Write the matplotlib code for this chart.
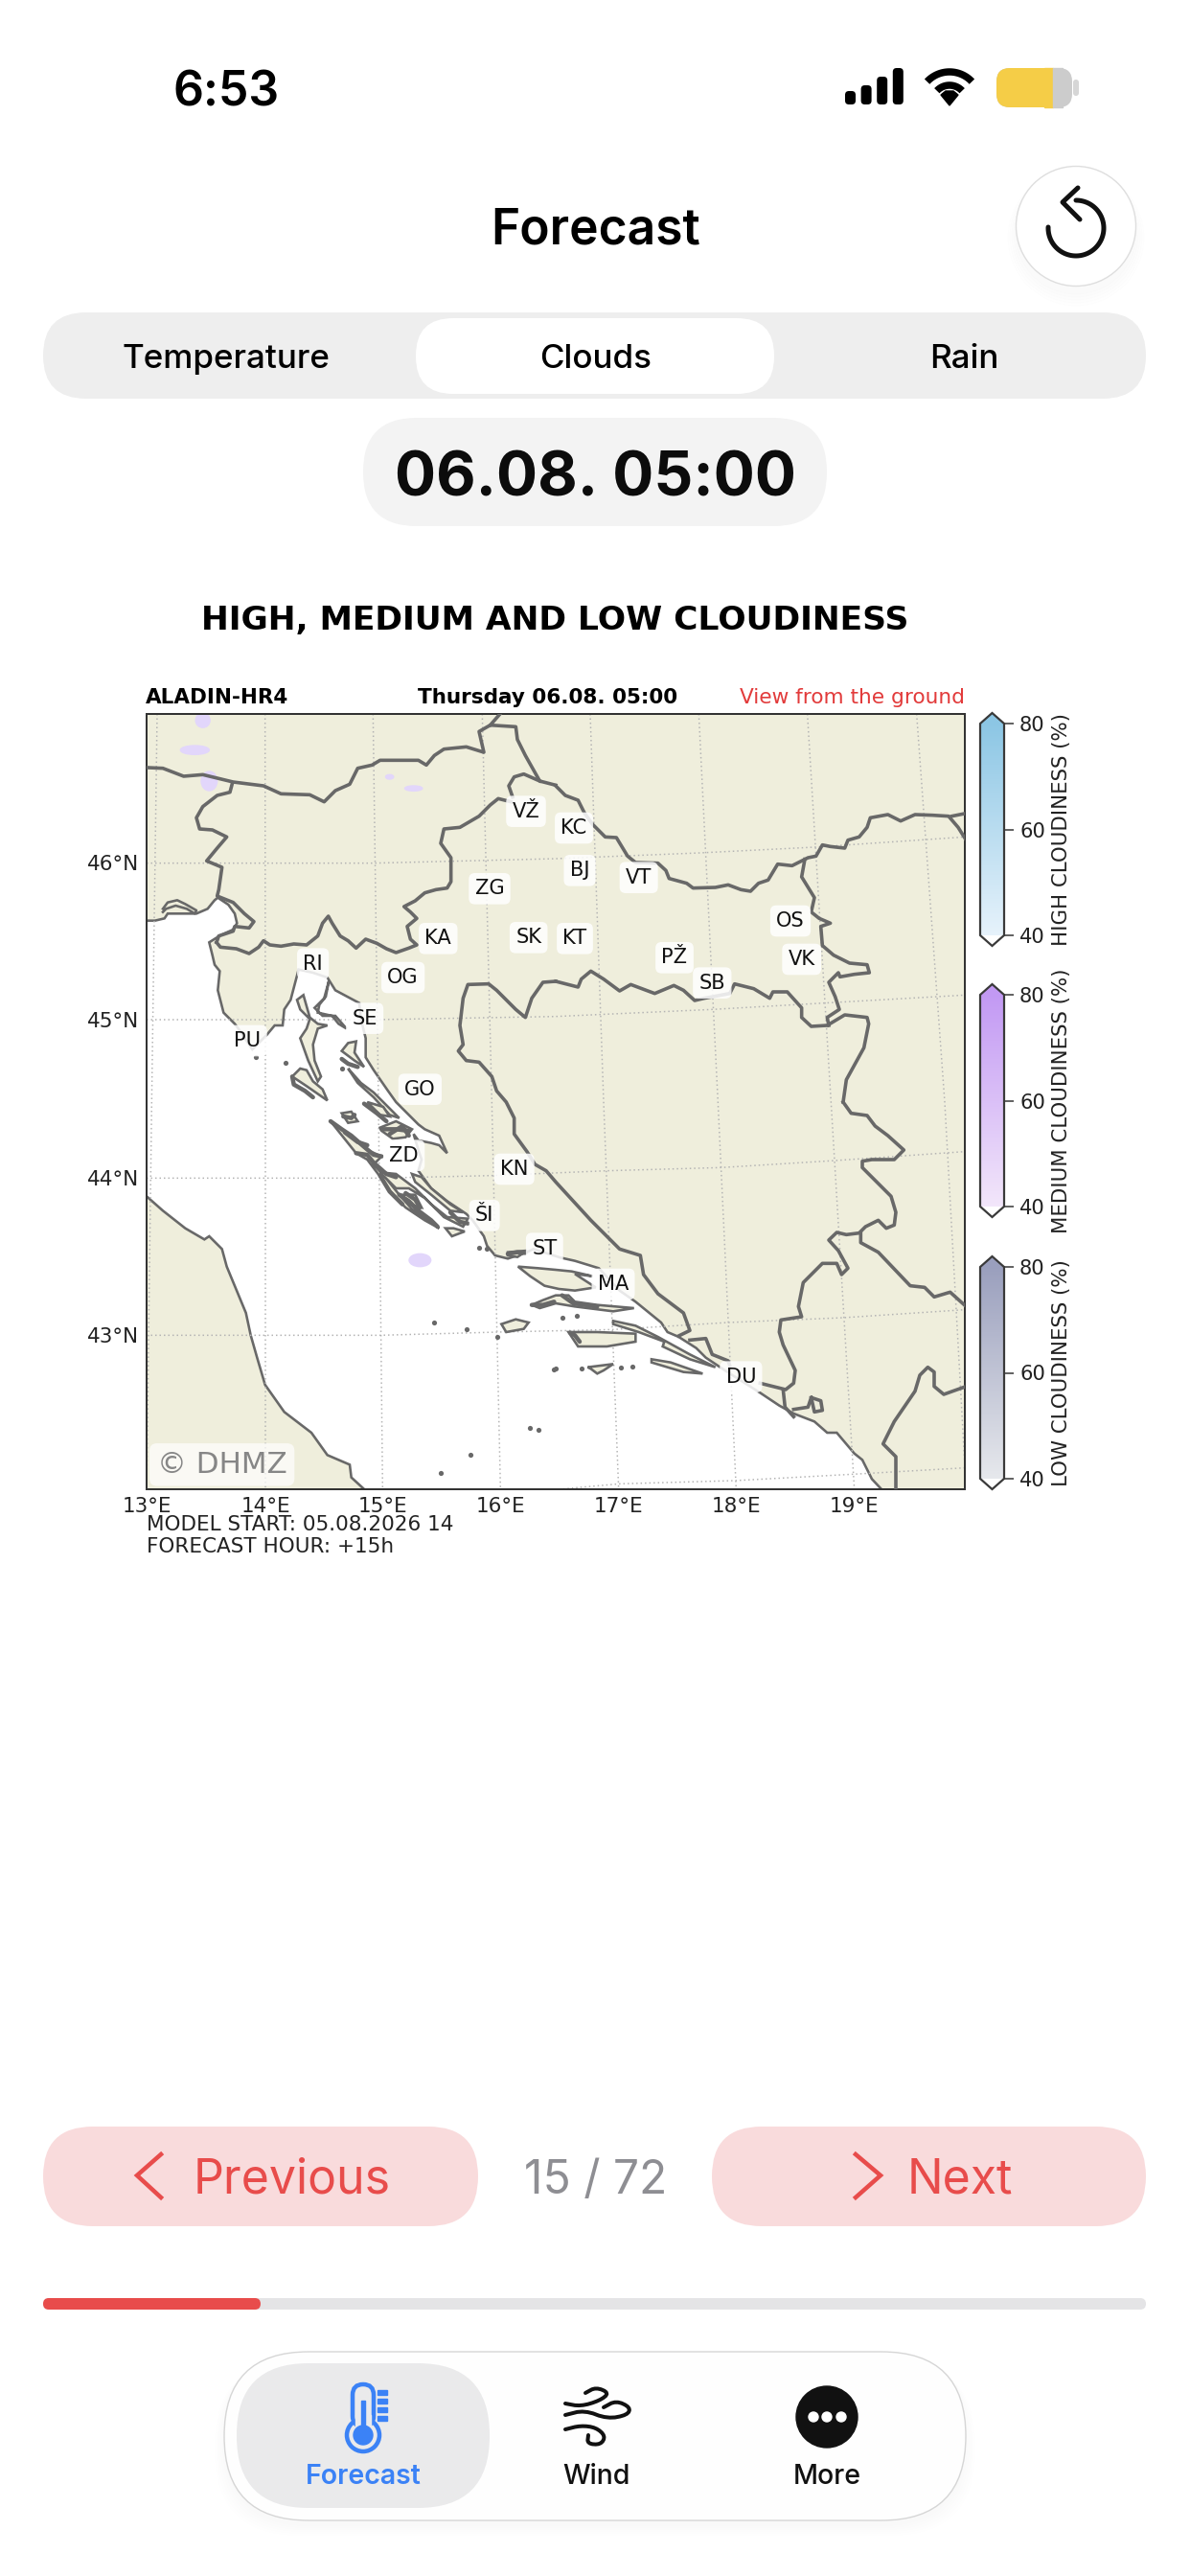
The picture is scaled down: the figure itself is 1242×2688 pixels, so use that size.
#!/usr/bin/env python3
"""Forecast screen of the cloud map app: phone UI around the ALADIN-HR4 map."""

import numpy as np
import matplotlib
matplotlib.use('Agg')
import matplotlib.pyplot as plt
from matplotlib.colors import LinearSegmentedColormap, Normalize
from matplotlib.cm import ScalarMappable
from matplotlib.patches import FancyBboxPatch, Circle, Ellipse, Polygon, Rectangle

WIDTH, HEIGHT = 1242, 2688
UI_FONT = 'Inter'
LAND = '#efeedc'
COAST = '#686868'
RED = '#e84c4b'
BLUE = '#3b82f6'

# map is traced in its own projected units, split in four tiles
EAST = 1290
SOUTH = 1230


def tile(points, du=0, dv=0):
    return [(u + du, v + dv) for u, v in points]


# axis ticks of the map (projected position -> label)
LON_TICKS = [9, 381, 748, 1117, 1487, 1855, 2225]
LON_LABELS = ['13°E', '14°E', '15°E', '16°E', '17°E', '18°E', '19°E']
LAT_TICKS = [480, 972, 1468, 1960]
LAT_LABELS = ['46°N', '45°N', '44°N', '43°N']

MERIDIANS = [
    [(42, 15), (25, 1230), (9, 2442)],
    [(380, 15), (381, 1230), (381, 2442)],
    [(718, 15), (735, 1230), (748, 2442)],
    [(1060, 15), (1090, 1230), (1117, 2442)],
    [(1398, 15), (1440, 1230), (1487, 2442)],
    [(1738, 15), (1798, 1230), (1855, 2442)],
    [(2078, 15), (2152, 1230), (2225, 2442)],
    [(2420, 15), (2508, 1230), (2575, 2442)],
]
PARALLELS = [
    [(9, 482), (720, 482), (1290, 468), (1740, 450), (2100, 432), (2571, 400)],
    [(9, 972), (720, 972), (1290, 962), (1780, 940), (2130, 920), (2571, 895)],
    [(9, 1468), (740, 1468), (1090, 1460), (1450, 1445), (1808, 1435), (2165, 1413), (2571, 1385)],
    [(9, 1960), (740, 1960), (1110, 1950), (1470, 1942), (1830, 1920), (2190, 1905), (2571, 1880)],
    [(1300, 2442), (1490, 2425), (1850, 2415), (2220, 2395), (2571, 2375)],
]

CITY_NAMES = ['VŽ', 'ZG', 'KA', 'SK', 'OG', 'RI', 'SE', 'PU', 'GO', 'KC', 'BJ', 'VT',
              'KT', 'PŽ', 'SB', 'OS', 'VK', 'ZD', 'KN', 'ŠI', 'ST', 'MA', 'DU']
CITY_U = [1197, 1083, 922, 1205, 812, 530, 692, 325, 865, 1347, 1365, 1550,
          1350, 1662, 1780, 2025, 2060, 815, 1160, 1067, 1255, 1470, 1870]
CITY_V = [320, 562, 718, 715, 840, 797, 968, 1038, 1190, 372, 505, 527,
          718, 778, 857, 663, 783, 1397, 1440, 1585, 1688, 1800, 2090]

# medium cloud patches: centre u, centre v, width, height
CLOUD_U = [185, 160, 205, 770, 845, 865]
CLOUD_V = [35, 128, 225, 212, 248, 1725]
CLOUD_W = [45, 90, 50, 25, 55, 68]
CLOUD_H = [45, 28, 60, 14, 16, 40]

ITALY_COAST = tile([
    (710, 1230), (650, 1175), (645, 1135), (575, 1105), (525, 1035), (440, 970), (380, 885),
    (355, 800), (335, 730), (320, 660), (260, 515), (245, 460), (205, 420), (190, 430),
    (130, 395), (60, 340), (9, 295), (-30, 270)], 0, SOUTH)

EAST_COAST = [
    (-30, 662), (35, 662), (65, 655), (75, 640), (120, 640), (165, 640), (200, 625), (222, 598),
    (232, 590), (265, 612), (285, 640), (292, 670), (280, 690), (240, 708), (205, 730), (215, 770),
    (222, 800), (238, 820), (232, 880), (250, 950), (285, 985), (300, 1005), (340, 1065), (385, 1020),
    (410, 990), (435, 990), (440, 940), (460, 910), (485, 815), (530, 825), (575, 840), (600, 880),
    (675, 920), (680, 970), (695, 1030), (695, 1090), (720, 1130), (765, 1195), (790, 1230),
    (860, 1300), (880, 1315), (925, 1335), (950, 1390), (925, 1365), (900, 1358), (860, 1350),
    (845, 1330), (860, 1380), (870, 1410), (860, 1445), (900, 1500), (950, 1540), (1010, 1580),
    (1030, 1600), (1065, 1650), (1075, 1680), (1100, 1710), (1140, 1720), (1200, 1700), (1220, 1690),
] + tile([
    (15, 487), (60, 497), (135, 520), (200, 590), (250, 625), (330, 690), (350, 720), (385, 735),
    (440, 770), (470, 800), (530, 840), (640, 910), (700, 950), (745, 975), (810, 1000), (850, 1035),
    (880, 1035), (935, 1100), (960, 1120), (990, 1180), (1020, 1212), (1050, 1250)], EAST, SOUTH)

LAGOON = [(60, 625), (75, 605), (105, 598), (130, 610), (165, 630), (160, 640), (135, 625),
          (100, 615), (70, 625), (60, 635)]

AUSTRIA_BORDER = [
    (-10, 182), (60, 185), (125, 210), (185, 205), (280, 228), (375, 240), (430, 265), (520, 268),
    (565, 290), (600, 255), (645, 235), (670, 185), (715, 175), (740, 160), (860, 160), (885, 175),
    (910, 145), (940, 125), (1010, 118), (1065, 135), (1050, 70), (1085, 50), (1165, 55), (1170, 95),
    (1195, 145), (1240, 225), (1290, 238)]
AUSTRIA_TOP = [(1085, 50), (1120, 10)]
ITALY_SLOVENIA = [
    (278, 230), (270, 260), (230, 270), (185, 305), (165, 340), (175, 375), (215, 378), (260, 400),
    (230, 435), (197, 475), (245, 495), (235, 565), (230, 585), (280, 605), (315, 640), (345, 665),
    (330, 685), (285, 680), (280, 695), (235, 710), (228, 730)]
SLOVENIA_CROATIA = [
    (228, 730), (240, 745), (290, 750), (330, 765), (360, 745), (375, 725), (395, 738), (430, 742),
    (470, 735), (510, 738), (545, 710), (560, 670), (578, 648), (590, 670), (615, 710), (640, 725),
    (665, 748), (695, 720), (730, 733), (760, 750), (790, 762), (830, 748), (855, 738), (835, 720),
    (825, 680), (855, 655), (835, 635), (815, 618), (850, 600), (880, 575), (915, 565), (950, 560),
    (962, 540), (962, 465), (930, 420), (940, 375), (990, 370), (1050, 335), (1085, 300), (1110, 280),
    (1150, 290)]
SLOVENIA_HUNGARY = [(1155, 275), (1143, 240), (1160, 212), (1190, 203), (1240, 225)]
DRAVA = tile([
    (0, 240), (30, 270), (70, 285), (90, 325), (115, 360), (155, 400), (190, 402), (225, 460),
    (250, 480), (320, 482), (345, 505), (355, 530), (410, 545), (430, 560), (500, 558), (540, 550),
    (580, 565), (610, 570), (635, 545), (665, 535), (695, 485), (740, 490), (790, 465), (815, 460),
    (835, 425), (860, 430), (905, 435), (915, 410), (950, 400), (975, 370), (985, 340), (1040, 330),
    (1080, 350), (1125, 330), (1180, 332), (1230, 335), (1260, 370), (1285, 410)], EAST)
HUNGARY_ROMANIA = tile([(1240, 335), (1285, 326)], EAST)
DANUBE = tile([
    (780, 470), (770, 525), (810, 590), (800, 635), (825, 655), (860, 670), (830, 680), (835, 740),
    (870, 770), (920, 795), (975, 800), (982, 825), (935, 830), (890, 838), (885, 825), (855, 855),
    (875, 900), (888, 940), (850, 965), (855, 990)], EAST)
SAVA = tile([
    (0, 852), (70, 870), (80, 845), (110, 820), (150, 845), (200, 882), (235, 862), (310, 890),
    (370, 865), (400, 880), (435, 912), (465, 905), (545, 890), (560, 860), (620, 875), (670, 905),
    (680, 885), (725, 885), (770, 935), (770, 965), (800, 993), (850, 990), (905, 957), (975, 965),
    (980, 985), (965, 1060), (910, 1160), (900, 1230)], EAST)
BOSNIA_SERBIA = tile([
    (900, 0), (925, 35), (975, 42), (1000, 75), (1040, 105), (1090, 150), (1060, 180), (990, 180),
    (960, 185), (960, 205), (1050, 295), (1065, 345), (1060, 385), (1035, 395), (1010, 370), (970, 390),
    (950, 410), (910, 415), (880, 408), (855, 432), (885, 465), (915, 520), (895, 540), (880, 505),
    (835, 505), (775, 565), (760, 640), (770, 672), (705, 682), (700, 720), (712, 760), (750, 840),
    (745, 880), (720, 900), (700, 895), (640, 880)], EAST, SOUTH)
BOSNIA_MONTENEGRO = tile([(712, 900), (718, 955), (745, 985)], EAST, SOUTH)
KOTOR = tile([(745, 962), (790, 955), (800, 925), (830, 935), (835, 965), (810, 970), (800, 925)], EAST, SOUTH)
SERBIA_MONTENEGRO = tile([
    (955, 410), (955, 440), (1010, 470), (1110, 575), (1155, 580), (1185, 610), (1235, 595), (1285, 640)],
    EAST, SOUTH)
ALBANIA_KOSOVO = tile([
    (1285, 890), (1215, 915), (1185, 890), (1185, 845), (1165, 830), (1140, 855), (1125, 905), (1060, 1000),
    (1025, 1070), (1065, 1110), (1065, 1220)], EAST, SOUTH)
CROATIA_BOSNIA = tile([
    (1290, 852), (1250, 855), (1215, 905), (1195, 965), (1165, 940), (1105, 880), (1080, 860), (1015, 862),
    (1000, 905), (990, 990), (1000, 1050), (985, 1070), (1010, 1100), (1050, 1105), (1090, 1150), (1105, 1195),
    (1135, 1230), (1160, 1280), (1160, 1330), (1200, 1385), (1225, 1425), (1260, 1445), (1290, 1480)]) + tile([
    (55, 310), (110, 370), (200, 460), (265, 480), (275, 540), (320, 600), (400, 660), (420, 715), (385, 732)],
    EAST, SOUTH)
DUBROVNIK_LAND = tile([(420, 745), (470, 740), (490, 790), (540, 810), (545, 825)], EAST, SOUTH)
BORDERS = [AUSTRIA_BORDER, AUSTRIA_TOP, ITALY_SLOVENIA, SLOVENIA_CROATIA, SLOVENIA_HUNGARY, DRAVA,
           HUNGARY_ROMANIA, DANUBE, SAVA, BOSNIA_SERBIA, BOSNIA_MONTENEGRO, KOTOR, SERBIA_MONTENEGRO,
           ALBANIA_KOSOVO, CROATIA_BOSNIA, DUBROVNIK_LAND]

CRES = [(480, 910), (500, 895), (510, 930), (520, 965), (545, 985), (575, 990), (545, 1000), (530, 1050),
        (535, 1100), (555, 1150), (545, 1165), (515, 1100), (490, 1030), (510, 1000), (520, 970), (490, 940)]
KRK = [(580, 850), (565, 905), (535, 935), (560, 960), (600, 960), (635, 1000), (610, 985), (590, 960),
       (545, 950), (550, 925), (570, 900)]
RAB = [(620, 1070), (640, 1045), (665, 1040), (660, 1075), (690, 1120), (660, 1100)]
PAG = [(640, 1125), (680, 1170), (720, 1200), (760, 1240), (800, 1280), (770, 1270), (720, 1215), (670, 1170)]
LOSINJ = [(465, 1150), (490, 1125), (510, 1130), (530, 1165), (560, 1190), (575, 1225), (510, 1180)]
BELT_A = tile([(585, 60), (640, 100), (700, 150), (745, 170), (720, 195), (760, 240), (800, 290), (840, 335),
               (900, 375), (925, 395), (880, 370), (820, 330), (780, 290), (745, 240), (700, 180), (665, 160)],
              0, SOUTH)
BELT_B = tile([(740, 220), (790, 225), (850, 270), (900, 320), (950, 360), (1015, 365), (1000, 390), (940, 360),
               (880, 300), (830, 270), (790, 270)], 0, SOUTH)
BELT_C = tile([(810, 290), (850, 290), (870, 330), (830, 320)], 0, SOUTH)
BELT_D = tile([(840, 225), (870, 235), (900, 270), (960, 320), (1000, 345), (960, 340), (900, 290), (850, 250)],
              0, SOUTH)
SMALL_A = tile([(620, 35), (650, 30), (670, 60), (640, 65)], 0, SOUTH)
SMALL_B = tile([(740, 80), (790, 60), (840, 85), (820, 110), (780, 115), (745, 90)], 0, SOUTH)
SMALL_C = tile([(700, 0), (740, 40), (770, 45), (750, 15)], 0, SOUTH)
SMALL_D = tile([(945, 395), (965, 420), (1005, 405), (970, 395)], 0, SOUTH)
TROGIR = tile([(1140, 470), (1200, 465), (1170, 485), (1140, 480)], 0, SOUTH)
BRAC = [(1172, 1745), (1235, 1750), (1290, 1755), (1340, 1760), (1405, 1775), (1350, 1768), (1415, 1810),
        (1350, 1820), (1300, 1815), (1255, 1805), (1210, 1775)]
HVAR = tile([(1215, 635), (1250, 620), (1290, 605), (1330, 605), (1350, 625), (1420, 635), (1535, 645),
             (1470, 655), (1350, 640), (1290, 630), (1240, 645)], 0, SOUTH)
VIS = tile([(1120, 695), (1165, 680), (1205, 690), (1190, 710), (1135, 720)], 0, SOUTH)
KORCULA = tile([(40, 720), (130, 720), (250, 725), (250, 750), (160, 765), (70, 765), (50, 735)], EAST, SOUTH)
PELJESAC = tile([(180, 685), (250, 700), (320, 735), (420, 790), (500, 830), (420, 805), (335, 765), (340, 750),
                 (260, 720), (180, 695)], EAST, SOUTH)
MLJET = tile([(300, 805), (360, 815), (460, 850), (400, 845), (300, 815)], EAST, SOUTH)
LASTOVO = tile([(100, 830), (180, 820), (150, 840), (130, 850), (110, 835)], EAST, SOUTH)
ISLANDS = [CRES, KRK, RAB, PAG, LOSINJ, BELT_A, BELT_B, BELT_C, BELT_D, SMALL_A, SMALL_B, SMALL_C, SMALL_D,
           TROGIR, BRAC, HVAR, VIS, KORCULA, PELJESAC, MLJET, LASTOVO]

# crowded island strings that read as solid dark strokes
ISLAND_MASSES = [
    tile(line, 0, SOUTH) for line in [
        [(585, 60), (620, 85), (650, 105), (690, 140), (720, 165), (745, 170)],
        [(665, 160), (700, 165), (720, 190)],
        [(630, 95), (670, 125), (700, 135)],
        [(800, 290), (830, 310), (860, 340), (900, 370), (920, 390)],
        [(820, 285), (850, 305), (865, 330)],
        [(960, 345), (990, 375), (1015, 380)],
        [(745, 85), (790, 85), (830, 90)],
        [(770, 100), (810, 75), (830, 105)],
        [(720, 190), (760, 225), (790, 235)],
        [(625, 45), (650, 50), (660, 40)],
        [(690, 5), (730, 35), (760, 60)],
        [(740, 230), (770, 280), (810, 320)],
        [(1140, 475), (1170, 470), (1195, 472)],
        [(1215, 635), (1250, 635), (1285, 625)],
    ]
] + [tile([(20, 605), (55, 630), (130, 640)], EAST, SOUTH),
     tile([(75, 750), (60, 730), (45, 722)], EAST, SOUTH),
     [(465, 1150), (470, 1175), (505, 1195), (530, 1215)],
     [(620, 1095), (640, 1110), (670, 1120)]]

ISLET_U = [350, 445, 620, 908, 1010, 1108, 1210, 1237, 1022, 930, 1285, 1355, 1310, 1370, 1495, 1530, 1290, 1050, 1075]
ISLET_V = [1090, 1108, 1125, 1920, 1942, 1965, 2250, 2255, 2335, 2390, 2068, 1900, 1905, 2065, 2060, 2058, 2065, 1685, 1690]

CBAR_LABELS = ['HIGH CLOUDINESS (%)', 'MEDIUM CLOUDINESS (%)', 'LOW CLOUDINESS (%)']
CBAR_TICKS = [40, 60, 80]
CBAR_TOP = ['#8cc6e4', '#c299f3', '#9a9fbd']
CBAR_BOTTOM = ['#e6f2fb', '#f2e6fa', '#e6e8ec']
CBAR_Y = [(744, 987), (1027, 1270), (1311, 1554)]

TABS = ['Temperature', 'Clouds', 'Rain']
TAB_X = [236, 622, 1006]
NAV_LABELS = ['Forecast', 'Wind', 'More']
NAV_X = [379, 622, 863]
CURRENT_FRAME = 15
TOTAL_FRAMES = 72
SIGNAL_HEIGHTS = [14, 20, 29, 38]

WIND_TOP = [(590, 2508), (606, 2511), (626, 2505), (636, 2497), (622, 2491), (611, 2497)]
WIND_MID = [(590, 2520), (610, 2515), (634, 2524), (655, 2520), (658, 2512), (643, 2505), (630, 2512)]
WIND_LOW = [(590, 2535), (606, 2531), (622, 2533), (632, 2542), (627, 2551), (613, 2550), (614, 2541)]


def px_rect(x0, y0, x1, y1):
    """Pixel box in the screenshot -> figure fractions for add_axes."""
    return [x0 / WIDTH, 1 - y1 / HEIGHT, (x1 - x0) / WIDTH, (y1 - y0) / HEIGHT]


def pt(px):
    # figure is saved at 100 dpi
    return px * 0.72


def pill(ax, x0, y0, x1, y1, radius, face, edge='none', lw=0.0, alpha=1.0, z=1):
    patch = FancyBboxPatch((x0, y0), x1 - x0, y1 - y0, boxstyle=f'round,pad=0,rounding_size={radius}',
                           facecolor=face, edgecolor=edge, linewidth=lw, alpha=alpha, zorder=z)
    ax.add_patch(patch)
    return patch


def smooth(points, rounds=2):
    pts = np.array(points, dtype=float)
    for _ in range(rounds):
        q = 0.75 * pts[:-1] + 0.25 * pts[1:]
        r = 0.25 * pts[:-1] + 0.75 * pts[1:]
        new = np.empty((2 * len(q), 2))
        new[0::2] = q
        new[1::2] = r
        pts = np.vstack([pts[0], new, pts[-1]])
    return pts


def draw_status_bar(ui):
    ui.text(236, 97, '6:53', fontsize=pt(50), fontweight='semibold', family=UI_FONT, ha='center', va='center')
    for i, h in enumerate(SIGNAL_HEIGHTS):
        x = 882 + i * 16.6
        pill(ui, x, 109 - h, x + 11, 109, 4, 'black')
    # wifi: two arcs and the wedge
    t = np.radians(np.linspace(-47, 47, 40))
    for r, w in [(32, 7.5), (18, 7.5)]:
        ui.plot(991 + r * np.sin(t), 107 - r * np.cos(t), color='black', lw=pt(w), solid_capstyle='butt')
    ui.add_patch(Polygon([(991, 110), (982, 99), (987, 95), (995, 95), (1000, 99)], closed=True, color='black'))
    pill(ui, 1040, 71, 1119, 112, 14, '#cccccc')
    pill(ui, 1040, 71, 1108, 112, 14, '#f5cd47', z=2)
    ui.add_patch(Rectangle((1090, 71), 9, 41, color='#f5cd47', zorder=2))
    ui.add_patch(Rectangle((1099, 71), 10, 41, color='#cccccc', zorder=2))
    pill(ui, 1120, 83, 1126, 100, 3, '#d6d6d6')


def draw_header(ui):
    ui.text(622, 241, 'Forecast', fontsize=pt(51.5), fontweight='semibold', family=UI_FONT, ha='center', va='center')
    for k in range(5):
        ui.add_patch(Circle((1123, 244 + k), 63 + k * 2, color='black', alpha=0.003, zorder=1))
    ui.add_patch(Circle((1123, 236), 62.5, facecolor='white', edgecolor='#dedede', lw=1.0, zorder=2))
    t = np.radians(np.linspace(0, 272, 80))
    ui.plot(1123 + 29 * np.sin(t), 238 - 29 * np.cos(t), color='#111111', lw=pt(5), zorder=3, solid_capstyle='round')
    ui.plot([1125, 1109, 1127], [196, 211, 229], color='#111111', lw=pt(5), zorder=3,
            solid_capstyle='round', solid_joinstyle='round')

    pill(ui, 45, 326, 1196, 416, 45, '#eeeeee')
    pill(ui, 434, 332, 808, 411, 39, 'white', z=2)
    for label, x in zip(TABS, TAB_X):
        ui.text(x, 375, label, fontsize=pt(35), fontweight='medium', family=UI_FONT, ha='center', va='center', zorder=3)
    pill(ui, 379, 436, 863, 549, 56, '#f3f3f3')
    ui.text(621, 500, '06.08. 05:00', fontsize=pt(64), fontweight='bold', family=UI_FONT,
            ha='center', va='center', color='#0c0c0c', zorder=3)


def draw_bottom(ui):
    pill(ui, 45, 2219, 499, 2323, 52, '#f9dbdc')
    pill(ui, 743, 2219, 1196, 2323, 52, '#f9dbdc')
    ui.plot([168, 143, 168], [2248, 2270, 2293], color=RED, lw=pt(4.5), solid_joinstyle='miter', zorder=3)
    ui.plot([893, 919, 893], [2248, 2270, 2293], color=RED, lw=pt(4.5), solid_joinstyle='miter', zorder=3)
    ui.text(305, 2275, 'Previous', color=RED, fontsize=pt(50), family=UI_FONT, ha='center', va='center', zorder=3)
    ui.text(1002, 2275, 'Next', color=RED, fontsize=pt(50), family=UI_FONT, ha='center', va='center', zorder=3)
    ui.text(622, 2276, f'{CURRENT_FRAME} / {TOTAL_FRAMES}', color='#8e8e93', fontsize=pt(48), family=UI_FONT,
            ha='center', va='center')

    # progress runs from first to last frame
    done = (CURRENT_FRAME - 1) / (TOTAL_FRAMES - 1)
    pill(ui, 45, 2398, 1196, 2410, 6, '#e4e4e6')
    pill(ui, 45, 2398, 45 + done * (1196 - 45), 2410, 6, RED, z=2)

    for k in range(6):
        pill(ui, 234 - k * 2, 2458 + k, 1008 + k * 2, 2636 + k * 2, 88, 'black', alpha=0.003)
    pill(ui, 234, 2454, 1008, 2630, 88, '#fefefe', edge='#d6d6d6', lw=1.0, z=2)
    pill(ui, 247, 2466, 511, 2617, 75, '#eaeaeb', z=3)

    # thermometer
    ui.add_patch(Circle((379, 2541), 17, facecolor='none', edgecolor=BLUE, lw=pt(4.5), zorder=4))
    pill(ui, 368, 2488, 390, 2532, 11, '#eaeaeb', edge=BLUE, lw=pt(4.5), z=4)
    ui.add_patch(Rectangle((371, 2520), 16, 12, color='#eaeaeb', zorder=5))
    ui.add_patch(Circle((379, 2541), 10, color=BLUE, zorder=6))
    ui.add_patch(Rectangle((377, 2505), 4, 30, color=BLUE, zorder=6))
    for y in [2496, 2505, 2514, 2523]:
        ui.add_patch(Rectangle((394, y - 2.5), 10, 5, color=BLUE, zorder=4))

    for stroke in [WIND_TOP, WIND_MID, WIND_LOW]:
        line = smooth(stroke)
        ui.plot(line[:, 0], line[:, 1], color='#111111', lw=pt(4), zorder=4, solid_capstyle='round')

    ui.add_patch(Circle((863, 2522), 32, color='#111111', zorder=4))
    for x in [849, 863, 878]:
        ui.add_patch(Circle((x, 2522), 5, color='white', zorder=5))

    for label, x in zip(NAV_LABELS, NAV_X):
        active = label == 'Forecast'
        ui.text(x, 2585, label, color=BLUE if active else '#111111', fontsize=pt(28.5),
                fontweight='semibold' if active else 'medium', family=UI_FONT,
                ha='center', va='center', zorder=5)


def draw_map(fig, ui):
    ui.text(579, 648, 'HIGH, MEDIUM AND LOW CLOUDINESS', fontsize=pt(34.5), fontweight='bold', ha='center', va='center')
    ui.text(152, 728, 'ALADIN-HR4', fontsize=pt(21.5), fontweight='bold', ha='left', va='center')
    ui.text(572, 728, 'Thursday 06.08. 05:00', fontsize=pt(21.5), fontweight='bold', ha='center', va='center')
    ui.text(1007, 728, 'View from the ground', fontsize=pt(21.7), color='#e23b3b', ha='right', va='center')

    ax = fig.add_axes(px_rect(153, 745, 1007, 1554), zorder=2)
    ax.set_xlim(9, 2571)
    ax.set_ylim(2442, 15)
    ax.set_facecolor(LAND)

    sea = EAST_COAST + [(2340, 2500), (710, 2500)] + ITALY_COAST
    ax.add_patch(Polygon(sea, closed=True, facecolor='white', edgecolor=COAST, lw=pt(2.6), zorder=1))

    for line in MERIDIANS + PARALLELS:
        xs, ys = zip(*line)
        ax.plot(xs, ys, color='#b4b4b4', lw=pt(1.5), ls=(0, (1, 2)), zorder=2)

    for u, v, w, h in zip(CLOUD_U, CLOUD_V, CLOUD_W, CLOUD_H):
        ax.add_patch(Ellipse((u, v), w, h, color='#e2d6fb', zorder=2))

    for line in BORDERS:
        xs, ys = zip(*line)
        ax.plot(xs, ys, color=COAST, lw=pt(3.6), zorder=3, solid_joinstyle='round')
    xs, ys = zip(*LAGOON)
    ax.plot(xs, ys, color=COAST, lw=pt(2.6), zorder=3)
    for island in ISLANDS:
        ax.add_patch(Polygon(island, closed=True, facecolor=LAND, edgecolor=COAST, lw=pt(2.6), zorder=3))
    for line in ISLAND_MASSES:
        xs, ys = zip(*line)
        ax.plot(xs, ys, color=COAST, lw=pt(4.5), zorder=3, solid_capstyle='round')
    ax.scatter(ISLET_U, ISLET_V, s=14, color=COAST, zorder=3, linewidths=0)

    for name, u, v in zip(CITY_NAMES, CITY_U, CITY_V):
        ax.text(u, v, name, fontsize=pt(21), ha='center', va='center', zorder=5, color='#111111',
                bbox=dict(boxstyle='round,pad=0.3', facecolor='white', edgecolor='none', alpha=0.85))
    ax.text(245, 2365, '© DHMZ', fontsize=pt(31), color='#868686', ha='center', va='center', zorder=5,
            bbox=dict(boxstyle='round,pad=0.25', facecolor='white', edgecolor='none', alpha=0.7))

    ax.set_xticks(LON_TICKS, LON_LABELS, fontsize=pt(21.5))
    ax.set_yticks(LAT_TICKS, LAT_LABELS, fontsize=pt(21.5))
    ax.tick_params(length=0, pad=pt(8), colors='#222222')
    for spine in ax.spines.values():
        spine.set_linewidth(pt(2))
        spine.set_color('#333333')

    ui.text(153, 1591, 'MODEL START: 05.08.2026 14', fontsize=pt(21.5), color='#222222', ha='left', va='center')
    ui.text(153, 1614, 'FORECAST HOUR: +15h', fontsize=pt(21.5), color='#222222', ha='left', va='center')


def draw_colorbars(fig):
    norm = Normalize(min(CBAR_TICKS), max(CBAR_TICKS))
    for label, top, bottom, (y0, y1) in zip(CBAR_LABELS, CBAR_TOP, CBAR_BOTTOM, CBAR_Y):
        cmap = LinearSegmentedColormap.from_list(label, [bottom, top])
        cmap.set_under('white')
        cmap.set_over(top)
        cax = fig.add_axes(px_rect(1023, y0, 1048, y1), zorder=2)
        cbar = fig.colorbar(ScalarMappable(norm=norm, cmap=cmap), cax=cax, extend='both', extendfrac=0.05,
                            ticks=CBAR_TICKS)
        cbar.ax.tick_params(labelsize=pt(21), length=pt(10), width=pt(1.5), color='#333333',
                            labelcolor='#222222', pad=pt(6))
        cbar.outline.set_linewidth(pt(2.2))
        cbar.outline.set_edgecolor('#3a3a3a')
        cbar.set_label(label, fontsize=pt(21.3), color='#222222', labelpad=pt(7))


def main():
    fig = plt.figure(figsize=(WIDTH / 100, HEIGHT / 100), dpi=100, facecolor='white')
    ui = fig.add_axes([0, 0, 1, 1], zorder=1)
    ui.set_xlim(0, WIDTH)
    ui.set_ylim(HEIGHT, 0)
    ui.axis('off')

    draw_status_bar(ui)
    draw_header(ui)
    draw_map(fig, ui)
    draw_colorbars(fig)
    draw_bottom(ui)

    fig.savefig('out.png', dpi=100)


if __name__ == '__main__':
    main()
